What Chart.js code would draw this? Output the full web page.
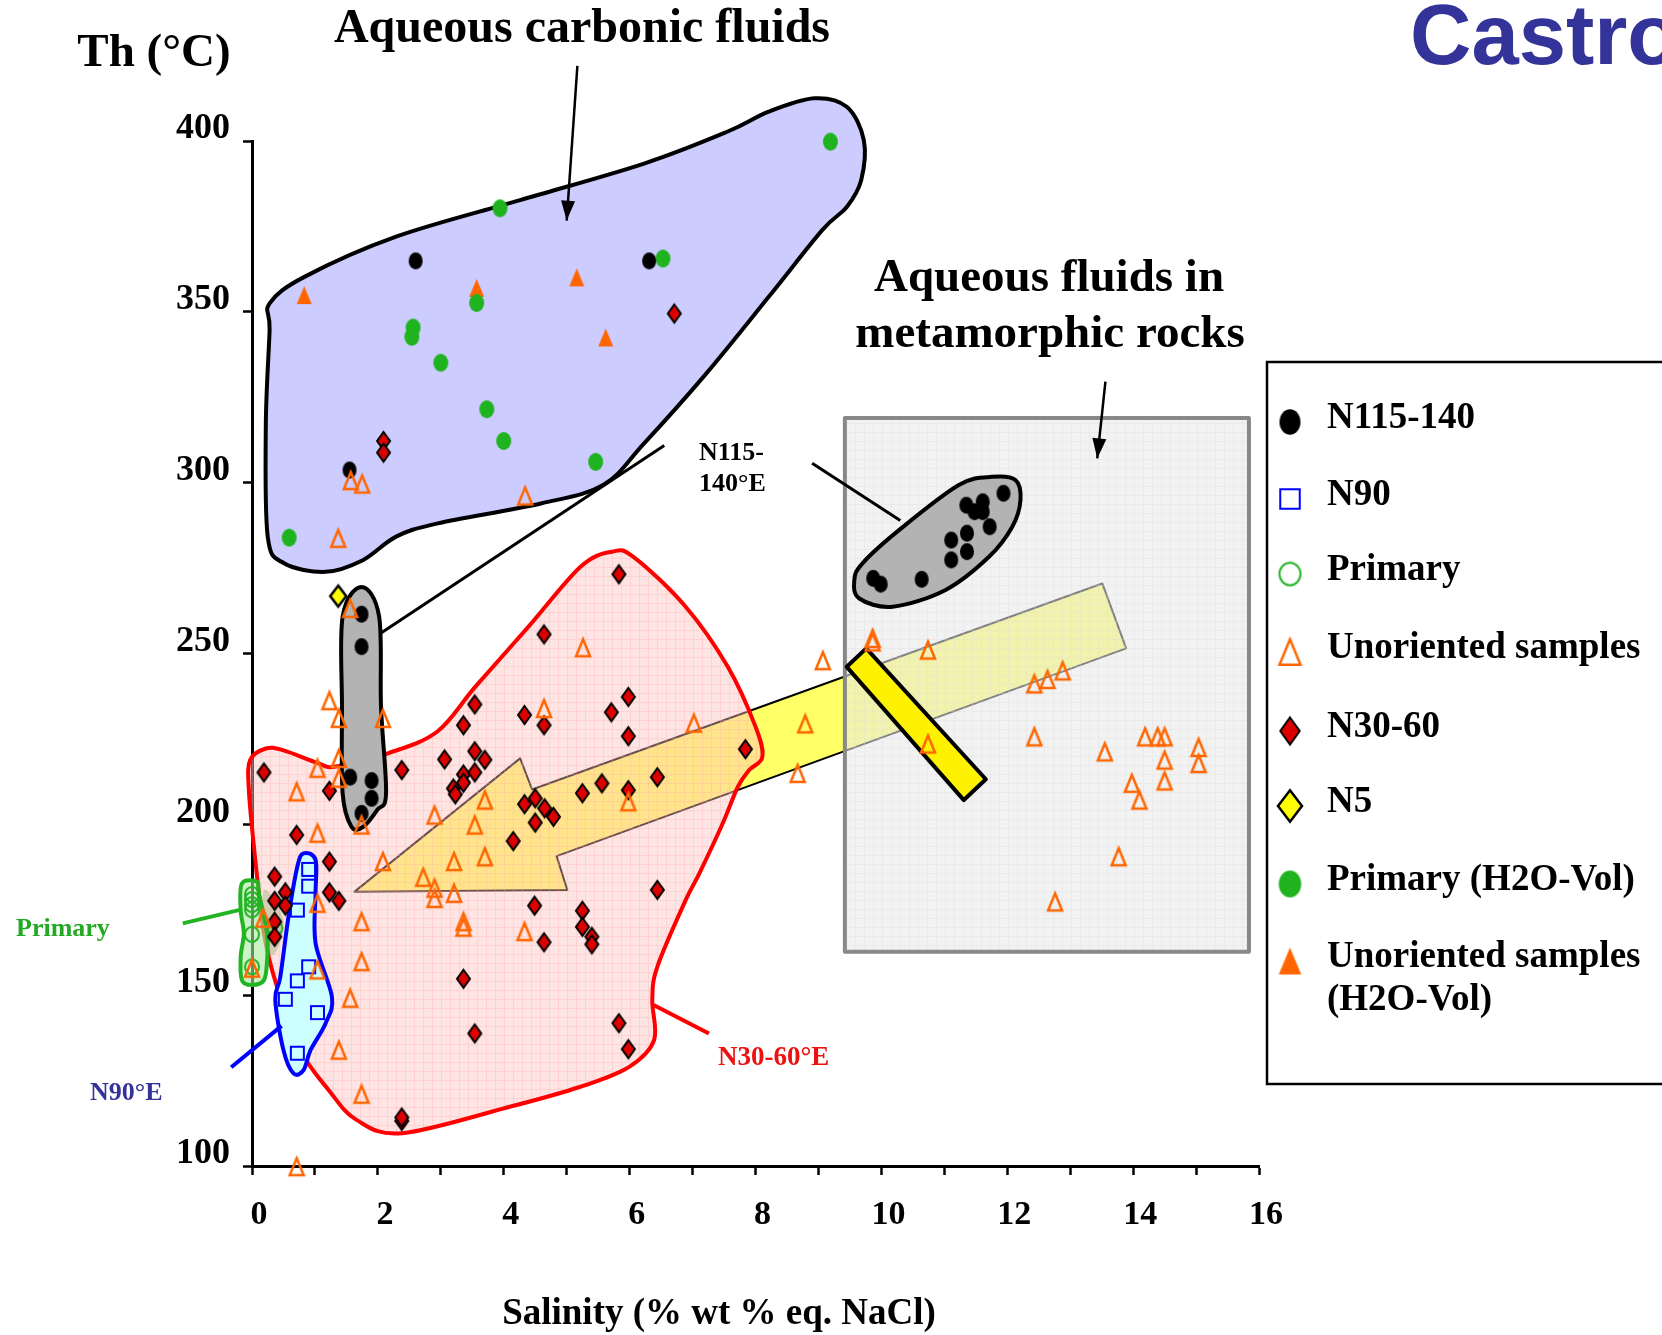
<!DOCTYPE html>
<html>
<head>
<meta charset="utf-8">
<script src="https://cdn.jsdelivr.net/npm/chart.js@4.4.1/dist/chart.umd.min.js"></script>
<style>
  html, body { margin: 0; padding: 0; background: #fff; overflow: hidden; }
  #wrap { width: 1662px; height: 1335px; position: relative; }
</style>
</head>
<body>
<div id="wrap"><canvas id="chart" width="1662" height="1335"></canvas></div>
<script>
// Th vs salinity, fluid inclusions

const SERIF = '"Liberation Serif", "Times New Roman", serif';

// axis ticks
const X_TICKS = [0, 2, 4, 6, 8, 10, 12, 14, 16];
const Y_TICKS = [100, 150, 200, 250, 300, 350, 400];

// [salinity, Th]
const N115_140 = [
  [2.60, 364.9], [6.31, 364.9], [1.55, 303.7],
  [1.74, 261.5], [1.74, 252.0], [1.56, 213.8], [1.90, 212.8], [1.90, 207.6], [1.74, 203.2],
  [9.87, 272.0], [9.99, 270.3], [10.64, 271.7], [11.11, 283.2], [11.11, 277.4], [11.36, 285.2],
  [11.36, 279.8], [11.35, 293.4], [11.48, 291.5], [11.61, 294.4], [11.61, 291.5], [11.72, 287.1],
  [11.94, 296.9],
];
const N90 = [
  [0.90, 186.8], [0.90, 181.9], [0.72, 174.9], [0.90, 158.3], [0.72, 154.2], [0.53, 148.8],
  [1.04, 144.9], [0.72, 133.0],
];
const PRIMARY = [
  [0.0, 179.5], [0.0, 178.0], [0.0, 176.5], [0.0, 175.0], [0.0, 167.8], [0.0, 158.3], [0.37, 169.6],
];
const UNORIENTED = [
  [1.57, 300.6], [1.75, 299.6], [4.34, 296.1], [1.37, 283.7],
  [1.56, 263.2], [5.26, 251.7], [1.23, 236.2], [1.38, 231.0], [2.08, 231.0], [4.64, 233.9],
  [7.02, 229.6], [1.38, 219.3], [1.04, 216.4], [1.38, 213.5], [0.71, 209.5], [1.74, 199.8],
  [3.70, 207.1], [2.90, 202.7], [3.54, 199.8], [1.04, 197.4], [5.98, 206.6], [2.08, 189.1],
  [3.21, 189.1], [3.70, 190.5], [2.72, 184.5], [2.90, 181.3], [2.90, 178.3], [3.21, 179.8],
  [1.04, 176.9], [0.18, 172.5], [1.74, 171.5], [3.36, 171.5], [3.36, 169.9], [4.33, 168.6],
  [0.00, 157.9], [1.74, 159.8], [1.04, 157.4], [1.56, 149.1], [1.38, 133.9], [1.74, 121.0],
  [0.71, 99.8],
  [9.07, 247.9], [9.86, 254.4], [9.86, 253.4], [10.74, 251.0], [8.79, 229.4], [8.67, 214.9],
  [10.74, 223.5], [12.43, 241.1], [12.64, 242.4], [12.88, 244.9], [12.43, 225.6], [13.55, 221.2],
  [14.19, 225.6], [14.39, 225.6], [14.50, 225.6], [14.50, 218.8], [14.50, 212.7], [15.04, 222.5],
  [15.04, 217.8], [13.98, 212.0], [14.10, 207.1], [13.77, 190.5], [12.76, 177.3],
];
const N30_60 = [
  [6.71, 349.5], [2.09, 312.2], [2.09, 308.8],
  [5.83, 273.2], [4.64, 255.6], [3.54, 235.1], [3.36, 229.0], [4.33, 232.0], [4.64, 229.0],
  [5.98, 237.3], [5.71, 232.8], [5.98, 225.8], [7.84, 222.0], [0.19, 215.2], [2.38, 215.9],
  [3.06, 219.0], [3.54, 221.4], [3.70, 218.9], [3.36, 214.6], [3.54, 215.2], [3.36, 212.2],
  [3.20, 210.5], [3.23, 208.8], [1.23, 209.8], [5.25, 209.1], [5.56, 212.0], [5.98, 210.0],
  [6.44, 213.8], [4.50, 207.6], [4.33, 205.9], [4.65, 204.7], [4.79, 202.2], [4.50, 200.5],
  [4.15, 195.1], [0.71, 196.9], [1.23, 189.1], [0.36, 184.7], [0.53, 180.1], [0.36, 177.6],
  [0.53, 176.2], [1.23, 180.1], [1.38, 177.6], [0.36, 171.5], [0.36, 167.1], [6.44, 180.8],
  [4.49, 176.2], [5.25, 174.7], [5.25, 170.0], [5.40, 167.1], [5.40, 164.9], [4.64, 165.5],
  [3.36, 154.8], [3.54, 138.8], [5.83, 141.8], [5.98, 134.2], [2.38, 113.2], [2.38, 114.2],
];
const N5 = [[1.37, 266.8]];
const PRIMARY_VOL = [
  [9.19, 399.8], [3.94, 380.3], [6.53, 365.6], [3.57, 352.6], [2.56, 345.4], [2.54, 342.7],
  [3.00, 335.1], [3.73, 321.5], [4.00, 312.2], [5.46, 306.1], [0.59, 283.9],
];
const UNORIENTED_VOL = [[0.83, 354.9], [3.57, 357.0], [5.16, 360.1], [5.62, 342.5]];

// outlined fields, in data units
const CARBONIC_FIELD = [
  [0.28, 352.5], [0.84, 360.3], [2.29, 372.0], [4.26, 382.7], [6.23, 393.4], [7.55, 402.7],
  [8.21, 408.6], [8.93, 412.5], [9.45, 410.0], [9.72, 400.3], [9.68, 388.6], [9.45, 380.7],
  [9.06, 373.9], [8.21, 354.4], [7.22, 332.0], [6.23, 311.5], [5.58, 299.3], [4.59, 293.9],
  [2.95, 288.1], [2.29, 284.2], [1.76, 277.3], [1.17, 273.9], [0.51, 276.4], [0.25, 284.2],
  [0.22, 317.4], [0.28, 344.7],
];
const N30_60_FIELD = [
  [-0.03, 218.8], [0.22, 222.2], [0.49, 221.7], [1.05, 217.9], [1.33, 216.9], [2.16, 220.8],
  [2.94, 227.1], [3.55, 240.3], [4.39, 257.8], [5.22, 275.4], [5.72, 279.8], [6.06, 278.3],
  [6.89, 263.7], [7.56, 246.1], [8.00, 228.6], [8.11, 219.8], [7.90, 215.9], [7.72, 211.0],
  [7.48, 200.3], [7.11, 185.7], [6.89, 177.8], [6.44, 158.3], [6.36, 148.6], [6.39, 136.9],
  [6.00, 129.1], [5.22, 123.2], [4.11, 117.4], [2.39, 109.6], [1.66, 113.5], [1.22, 122.2],
  [0.77, 133.9], [0.38, 153.5], [0.19, 168.1], [0.05, 190.0], [-0.05, 210.0],
];
const N115_LOW_FIELD = [
  [1.74, 269.5], [2.02, 260.8], [2.05, 234.4], [2.13, 209.1], [1.99, 204.2], [1.77, 199.3],
  [1.58, 199.3], [1.44, 209.1], [1.43, 234.4], [1.44, 260.8],
];
const N115_META_FIELD = [
  [9.57, 271.5], [9.70, 276.4], [10.28, 286.1], [11.23, 299.3], [11.76, 301.7], [12.13, 300.8],
  [12.21, 294.9], [12.08, 287.1], [11.71, 278.3], [11.02, 268.6], [10.18, 263.7], [9.65, 266.1],
];
const N90_FIELD = [
  [0.82, 191.5], [1.01, 189.6], [1.01, 179.8], [1.01, 165.2], [1.27, 149.5], [1.17, 141.8],
  [0.93, 133.9], [0.82, 128.1], [0.66, 127.1], [0.50, 133.9], [0.37, 148.6], [0.45, 155.4],
  [0.58, 173.0], [0.72, 187.6],
];
const PRIMARY_FIELD = [
  [-0.16, 182.7], [0.08, 183.2], [0.11, 179.8], [0.24, 168.1], [0.24, 160.3], [0.19, 154.4],
  [0.00, 153.0], [-0.16, 154.4], [-0.18, 161.3], [-0.13, 168.1], [-0.18, 174.9],
];
const PRIMARY_HALO = [[0.19, 180.8], [0.50, 172.0], [0.37, 162.2], [0.19, 165.2]];
const METAMORPHIC_BOX = [[9.42, 162.7], [15.84, 318.9]];
const TREND_ARROW = [
  [1.63, 180.3], [4.26, 219.3], [4.45, 210.2], [13.51, 270.5], [13.89, 251.5], [4.84, 190.7],
  [5.01, 180.8],
];
const CROSS_BAR = [[9.45, 246.1], [9.76, 251.5], [11.66, 213.2], [11.31, 207.1]];

// pointer lines [from, to]
const LINK_LOW = [[2.05, 256.0], [6.55, 310.9]];
const LINK_META = [[8.90, 305.7], [10.30, 288.9]];
const LINK_PRIMARY = [[-1.10, 171.0], [-0.16, 175.1]];
const LINK_N90 = [[-0.33, 128.9], [0.47, 141.0]];
const LINK_N30 = [[6.38, 147.1], [7.26, 138.8]];
const ARROW_CARBONIC = [[5.17, 422.0], [5.00, 376.7]];
const ARROW_META = [[13.56, 329.6], [13.43, 307.1]];

function makeMarker(kind, w, h, fill, stroke, lw) {
  const pad = Math.ceil(lw || 0) + 1;
  const c = document.createElement("canvas");
  c.width = Math.round(w + pad * 2);
  c.height = Math.round(h + pad * 2);
  const g = c.getContext("2d");
  const cx = c.width / 2, cy = c.height / 2;
  g.beginPath();
  if (kind === "ellipse") {
    g.ellipse(cx, cy, w / 2, h / 2, 0, 0, Math.PI * 2);
  } else if (kind === "triangle") {
    g.moveTo(cx, cy - h / 2);
    g.lineTo(cx + w / 2, cy + h / 2);
    g.lineTo(cx - w / 2, cy + h / 2);
    g.closePath();
  } else if (kind === "diamond") {
    g.moveTo(cx, cy - h / 2);
    g.lineTo(cx + w / 2, cy);
    g.lineTo(cx, cy + h / 2);
    g.lineTo(cx - w / 2, cy);
    g.closePath();
  } else {
    g.rect(cx - w / 2, cy - h / 2, w, h);
  }
  if (fill) { g.fillStyle = fill; g.fill(); }
  if (stroke) { g.lineWidth = lw; g.strokeStyle = stroke; g.stroke(); }
  return c;
}

const STYLES = {
  n115: (s) => makeMarker("ellipse", 14 * s, 17 * s, "#000000"),
  n90: (s) => makeMarker("square", 13 * s, 13 * s, null, "#0000ff", 2),
  primary: (s) => makeMarker("ellipse", 14 * s, 15 * s, null, "#22b422", 2),
  unoriented: (s) => makeMarker("triangle", 14 * s, 17 * s, null, "#ff6600", 2.5),
  n3060: (s) => makeMarker("diamond", 13 * s, 18 * s, "#dd0000", "#000000", 2),
  n5: (s) => makeMarker("diamond", 16 * s, 21 * s, "#ffff00", "#000000", 2.5),
  primaryVol: (s) => makeMarker("ellipse", 15 * s, 18 * s, "#1fb41f"),
  unorientedVol: (s) => makeMarker("triangle", 15 * s, 18 * s, "#ff6600"),
};

const SERIES = [
  { label: "Unoriented samples", data: UNORIENTED, style: "unoriented" },
  { label: "N30-60", data: N30_60, style: "n3060" },
  { label: "N90", data: N90, style: "n90" },
  { label: "Primary", data: PRIMARY, style: "primary" },
  { label: "N115-140", data: N115_140, style: "n115" },
  { label: "N5", data: N5, style: "n5" },
  { label: "Primary (H2O-Vol)", data: PRIMARY_VOL, style: "primaryVol" },
  { label: "Unoriented samples (H2O-Vol)", data: UNORIENTED_VOL, style: "unorientedVol" },
];

const LEGEND = [
  { style: "n115", lines: ["N115-140"] },
  { style: "n90", lines: ["N90"] },
  { style: "primary", lines: ["Primary"] },
  { style: "unoriented", lines: ["Unoriented samples"] },
  { style: "n3060", lines: ["N30-60"] },
  { style: "n5", lines: ["N5"] },
  { style: "primaryVol", lines: ["Primary (H2O-Vol)"] },
  { style: "unorientedVol", lines: ["Unoriented samples", "(H2O-Vol)"] },
];

function toPx(chart, pts) {
  const { x, y } = chart.scales;
  return pts.map(([a, b]) => [x.getPixelForValue(a), y.getPixelForValue(b)]);
}

function smoothPath(ctx, p) {
  const n = p.length;
  ctx.beginPath();
  ctx.moveTo(p[0][0], p[0][1]);
  for (let i = 0; i < n; i++) {
    const p0 = p[(i - 1 + n) % n], p1 = p[i], p2 = p[(i + 1) % n], p3 = p[(i + 2) % n];
    ctx.bezierCurveTo(
      p1[0] + (p2[0] - p0[0]) / 6, p1[1] + (p2[1] - p0[1]) / 6,
      p2[0] - (p3[0] - p1[0]) / 6, p2[1] - (p3[1] - p1[1]) / 6,
      p2[0], p2[1]
    );
  }
  ctx.closePath();
}

function polyPath(ctx, p) {
  ctx.beginPath();
  p.forEach(([x, y], i) => (i ? ctx.lineTo(x, y) : ctx.moveTo(x, y)));
  ctx.closePath();
}

function paint(ctx, fill, stroke, lw) {
  if (fill) { ctx.fillStyle = fill; ctx.fill(); }
  if (stroke) { ctx.strokeStyle = stroke; ctx.lineWidth = lw; ctx.lineJoin = "round"; ctx.stroke(); }
}

function gridPattern(ctx, base, line, step) {
  const c = document.createElement("canvas");
  c.width = c.height = step;
  const g = c.getContext("2d");
  g.fillStyle = base;
  g.fillRect(0, 0, step, step);
  g.fillStyle = line;
  g.fillRect(0, 0, step, 1);
  g.fillRect(0, 1, 1, step - 1);
  return ctx.createPattern(c, "repeat");
}

function segment(ctx, chart, seg, color, lw, head) {
  const [[x1, y1], [x2, y2]] = toPx(chart, seg);
  ctx.beginPath();
  ctx.moveTo(x1, y1);
  ctx.lineTo(x2, y2);
  ctx.strokeStyle = color;
  ctx.lineWidth = lw;
  ctx.lineCap = "butt";
  ctx.stroke();
  if (head) {
    const a = Math.atan2(y2 - y1, x2 - x1);
    ctx.beginPath();
    ctx.moveTo(x2, y2);
    ctx.lineTo(x2 - 20 * Math.cos(a) + 7 * Math.sin(a), y2 - 20 * Math.sin(a) - 7 * Math.cos(a));
    ctx.lineTo(x2 - 20 * Math.cos(a) - 7 * Math.sin(a), y2 - 20 * Math.sin(a) + 7 * Math.cos(a));
    ctx.closePath();
    ctx.fillStyle = color;
    ctx.fill();
  }
}

function text(ctx, str, x, y, size, color, opts = {}) {
  ctx.font = `bold ${size}px ${opts.family || SERIF}`;
  ctx.fillStyle = color;
  ctx.textAlign = opts.align || "left";
  ctx.textBaseline = opts.baseline || "middle";
  ctx.fillText(str, x, y);
}

const fieldsPlugin = {
  id: "fields",
  beforeDatasetsDraw(chart) {
    const ctx = chart.ctx;
    ctx.save();

    smoothPath(ctx, toPx(chart, CARBONIC_FIELD));
    paint(ctx, "#ccccff", "#000000", 4);

    polyPath(ctx, toPx(chart, TREND_ARROW));
    paint(ctx, "#ffff66", "#000000", 2);

    smoothPath(ctx, toPx(chart, N30_60_FIELD));
    paint(ctx, gridPattern(ctx, "rgba(255,190,190,0.42)", "rgba(255,170,170,0.3)", 9), "#ff0000", 4);

    const [[bx1, by1], [bx2, by2]] = toPx(chart, METAMORPHIC_BOX);
    ctx.beginPath();
    ctx.rect(bx1, by2, bx2 - bx1, by1 - by2);
    paint(ctx, gridPattern(ctx, "rgba(232,232,232,0.56)", "rgba(215,215,215,0.3)", 9), "#888888", 4);

    smoothPath(ctx, toPx(chart, N115_META_FIELD));
    paint(ctx, "#b3b3b3", "#000000", 4);

    polyPath(ctx, toPx(chart, CROSS_BAR));
    paint(ctx, "#fff200", "#000000", 4);

    smoothPath(ctx, toPx(chart, N115_LOW_FIELD));
    paint(ctx, "#b3b3b3", "#000000", 4);

    smoothPath(ctx, toPx(chart, N90_FIELD));
    paint(ctx, "#ccffff", "#0000ff", 4);

    smoothPath(ctx, toPx(chart, PRIMARY_HALO));
    paint(ctx, "rgba(110,160,80,0.3)");
    smoothPath(ctx, toPx(chart, PRIMARY_FIELD));
    paint(ctx, "rgba(170,235,160,0.6)", "#22b422", 4);

    segment(ctx, chart, LINK_LOW, "#000000", 3);
    segment(ctx, chart, LINK_META, "#000000", 3);
    segment(ctx, chart, LINK_PRIMARY, "#22b422", 4);
    segment(ctx, chart, LINK_N90, "#0000ff", 4);
    segment(ctx, chart, LINK_N30, "#ff0000", 4);
    segment(ctx, chart, ARROW_CARBONIC, "#000000", 2.5, true);
    segment(ctx, chart, ARROW_META, "#000000", 2.5, true);
    ctx.restore();
  },
  afterDraw(chart) {
    const ctx = chart.ctx;
    ctx.save();
    text(ctx, "Th (°C)", 154, 54, 47, "#000", { align: "center" });
    text(ctx, "Aqueous carbonic fluids", 582, 30, 48, "#000", { align: "center" });
    text(ctx, "Aqueous fluids in", 1049, 279, 47, "#000", { align: "center" });
    text(ctx, "metamorphic rocks", 1050, 335, 47, "#000", { align: "center" });
    text(ctx, "N115-", 699, 453, 26, "#000");
    text(ctx, "140°E", 699, 484, 26, "#000");
    text(ctx, "Primary", 16, 929, 26, "#22aa22");
    text(ctx, "N90°E", 90, 1093, 26, "#333399");
    text(ctx, "N30-60°E", 718, 1058, 27, "#ee1111");
    text(ctx, "Salinity (% wt % eq. NaCl)", 719, 1314, 37, "#000", { align: "center" });
    text(ctx, "Castro", 1410, 64, 85, "#333399", {
      baseline: "alphabetic", family: '"Liberation Sans", Arial, sans-serif',
    });

    // legend
    ctx.strokeStyle = "#000";
    ctx.lineWidth = 2.5;
    ctx.strokeRect(1267, 362, 430, 722);
    const rowY = [418, 495, 570, 648, 727, 802, 880, 957];
    LEGEND.forEach((item, i) => {
      const m = STYLES[item.style](1.5);
      ctx.drawImage(m, 1290 - m.width / 2, rowY[i] + 4 - m.height / 2);
      item.lines.forEach((line, j) => text(ctx, line, 1327, rowY[i] + j * 43, 37, "#000"));
    });
    ctx.restore();
  },
};

const tickFont = (size) => ({ family: SERIF, weight: "bold", size });

new Chart(document.getElementById("chart"), {
  type: "scatter",
  data: {
    datasets: SERIES.map((s) => ({
      label: s.label,
      data: s.data.map(([x, y]) => ({ x, y })),
      pointStyle: STYLES[s.style](1),
      pointRadius: 8,
      pointHoverRadius: 8,
      showLine: false,
      clip: false,
    })),
  },
  options: {
    responsive: false,
    devicePixelRatio: 1,
    animation: false,
    events: [],
    layout: { padding: { left: 0, top: 141, right: 403, bottom: 0 } },
    plugins: { legend: { display: false }, tooltip: { enabled: false } },
    scales: {
      x: {
        type: "linear",
        min: X_TICKS[0],
        max: X_TICKS[X_TICKS.length - 1],
        afterFit: (s) => { s.height = 169; },
        afterBuildTicks: (s) => {
          const t = [];
          for (let v = s.min; v <= s.max; v++) t.push({ value: v });
          s.ticks = t;
        },
        border: { display: true, color: "#000", width: 3 },
        grid: { display: true, drawOnChartArea: false, drawTicks: true, tickLength: 9, tickWidth: 2.5, tickColor: "#000" },
        ticks: {
          autoSkip: false,
          maxRotation: 0,
          padding: 20,
          labelOffset: 7,
          color: "#000",
          font: tickFont(34),
          callback: (v) => (X_TICKS.includes(v) ? String(v) : ""),
        },
      },
      y: {
        type: "linear",
        min: Y_TICKS[0],
        max: Y_TICKS[Y_TICKS.length - 1],
        afterFit: (s) => { s.width = 252; },
        afterBuildTicks: (s) => { s.ticks = Y_TICKS.map((v) => ({ value: v })); },
        border: { display: true, color: "#000", width: 3 },
        grid: { display: true, drawOnChartArea: false, drawTicks: true, tickLength: 9, tickWidth: 2.5, tickColor: "#000" },
        ticks: {
          padding: 13,
          labelOffset: -12,
          color: "#000",
          font: tickFont(36),
        },
      },
    },
  },
  plugins: [fieldsPlugin],
});
</script>
</body>
</html>
